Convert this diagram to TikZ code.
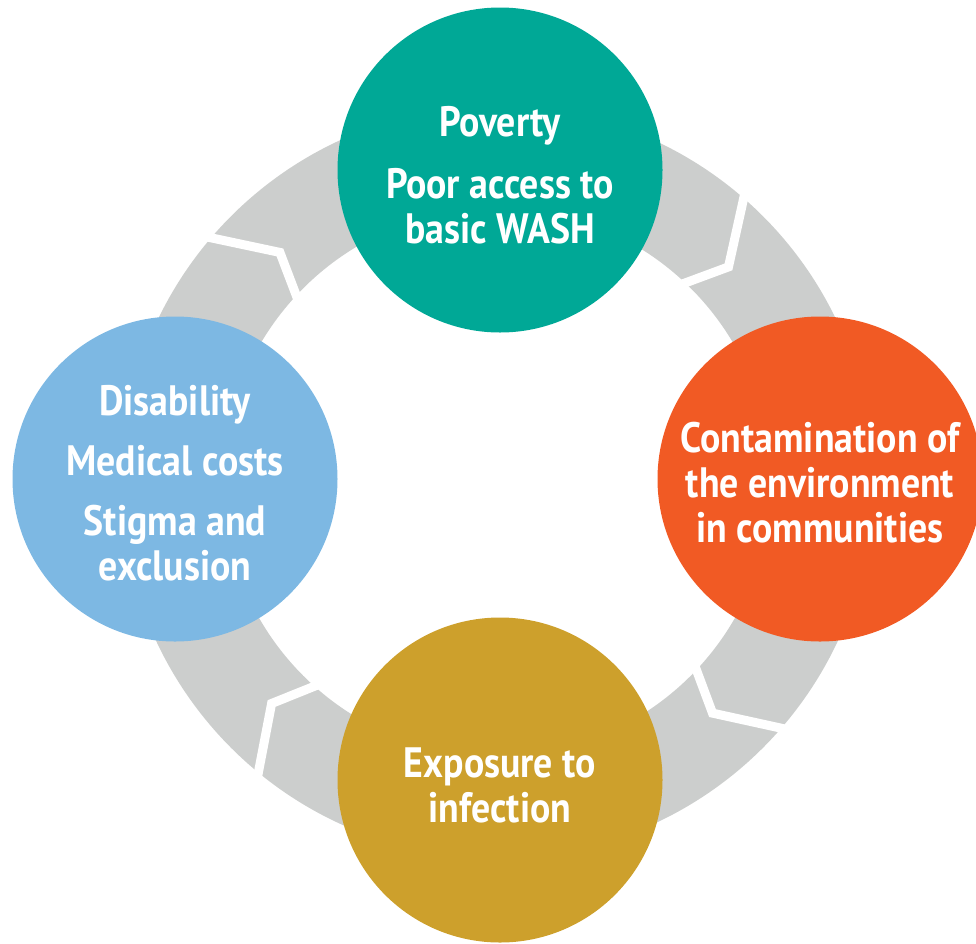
\documentclass[tikz,border=0pt]{standalone}
\usepackage{fontspec}
\newfontfamily\labfont{PT Sans}[FakeStretch=0.89]
\usetikzlibrary{calc}
\definecolor{ringgray}{HTML}{CCCECD}
\definecolor{cteal}{HTML}{00A896}
\definecolor{corange}{HTML}{F15A24}
\definecolor{cgold}{HTML}{CDA02C}
\definecolor{cblue}{HTML}{7DB8E3}
\tikzset{
  stage/.style={circle, inner sep=0pt, minimum size=325pt},
  stagetext/.style={inner sep=0pt, text=white, align=center,
    font=\labfont\bfseries\fontsize{42.5}{45}\selectfont},
  sep/.style={white, line width=9pt, line join=miter}
}
\begin{document}
\begin{tikzpicture}[x=1pt,y=-1pt]
\useasboundingbox (0,0) rectangle (976,943);
\coordinate (C) at (497,482);
\fill[ringgray, even odd rule] (C) circle (376pt) (C) circle (274pt);
\foreach \k/\o in {1/139.5, 2/49, 3/-40.9, 4/-129.4}{
  \coordinate (o\k) at ($(C)+(\o:376pt)$);
  \coordinate (t\k) at ($(C)+(\o-6.1:316pt)$);
  \coordinate (i\k) at ($(C)+(\o-2.5:275pt)$);
  \draw[sep] ($(t\k)!1.35!(o\k)$) -- (t\k) -- ($(t\k)!1.45!(i\k)$);
}
\node[stage, fill=cteal] (pov) at (500,170) {};
\node[stage, fill=corange] (cont) at (820,479) {};
\node[stage, fill=cgold] (exp) at (500,780) {};
\node[stage, fill=cblue] (dis) at (175,479) {};
\node[stagetext] (povt) at ($(pov)+(0,5)$) {Poverty\\[17pt]Poor access to\\basic WASH};
\node[stagetext] (contt) at ($(cont)+(0,4)$) {Contamination of\\the environment\\in communities};
\node[stagetext] (expt) at ($(exp)+(0,5)$) {Exposure to\\infection};
\node[stagetext] (dist) at ($(dis)+(0,4)$) {Disability\\[15pt]Medical costs\\[15pt]Stigma and\\exclusion};
\end{tikzpicture}
\end{document}
